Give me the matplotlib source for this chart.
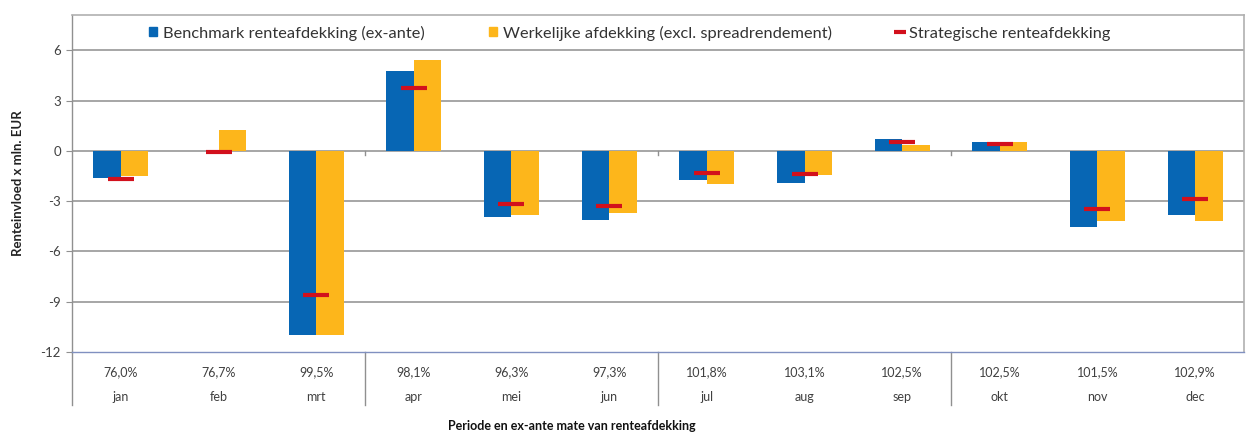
import matplotlib
matplotlib.use("Agg")
import matplotlib.pyplot as plt
import matplotlib.transforms as mtransforms
from matplotlib.lines import Line2D
from matplotlib.patches import Patch
import numpy as np

plt.rcParams['font.family'] = ['Lato', 'DejaVu Sans']

months = ["jan", "feb", "mrt", "apr", "mei", "jun", "jul", "aug", "sep", "okt", "nov", "dec"]
hedge_pct = ["76,0%", "76,7%", "99,5%", "98,1%", "96,3%", "97,3%", "101,8%", "103,1%",
             "102,5%", "102,5%", "101,5%", "102,9%"]
benchmark = [-1.6, 0.0, -11.0, 4.75, -3.95, -4.15, -1.75, -1.9, 0.7, 0.5, -4.55, -3.8]
werkelijk = [-1.5, 1.25, -11.0, 5.4, -3.8, -3.7, -1.95, -1.45, 0.35, 0.55, -4.2, -4.2]
strategisch = [-1.7, -0.1, -8.6, 3.75, -3.2, -3.3, -1.3, -1.4, 0.55, 0.4, -3.45, -2.85]
yticks = [-12, -9, -6, -3, 0, 3, 6]
quarter_bounds = [2.5, 5.5, 8.5]

BLUE = "#0766b4"
ORANGE = "#fdb61b"
RED = "#d2101c"
GRID = "#a6a6a6"
TXT = "#404040"

fig = plt.figure(figsize=(12.46, 4.34), dpi=100)
ax = fig.add_axes([72/1246, 1-352/434, (1244-72)/1246, (352-15)/434])

x = np.arange(len(months))
w = 0.28
ax.bar(x - w/2, benchmark, w, color=BLUE, zorder=3)
ax.bar(x + w/2, werkelijk, w, color=ORANGE, zorder=3)
ax.plot(x, strategisch, linestyle='none', marker='_', markersize=19,
        markeredgewidth=3.0, color=RED, zorder=4)

ax.set_xlim(-0.5, len(months) - 0.5)
ax.set_ylim(-12, 8.1)
ax.set_yticks(yticks)
ax.set_yticklabels([str(v) for v in yticks], fontsize=9.5, color=TXT)
for v in yticks[1:]:
    ax.axhline(v, color=GRID, linewidth=1.4, zorder=1)

for s in ["top", "right"]:
    ax.spines[s].set_color("#b0b0b0")
    ax.spines[s].set_linewidth(1.2)
ax.spines["left"].set_color("#909090")
ax.spines["left"].set_linewidth(1.0)
ax.spines["bottom"].set_color("#8090c0")
ax.spines["bottom"].set_linewidth(1.0)

ax.tick_params(axis='y', length=4, color="#909090", pad=4)
ax.set_xticks(x)
ax.set_xticklabels(hedge_pct, fontsize=9, color=TXT)
ax.tick_params(axis='x', length=0, pad=10)

trans = mtransforms.blended_transform_factory(ax.transData, ax.transAxes)
for xi, m in zip(x, months):
    ax.text(xi, -0.135, m, transform=trans, ha='center', va='center', fontsize=9, color=TXT)

# table separators
ybot = -(405-352)/337
ax.plot([-0.5, -0.5], [0, ybot], transform=trans, color="#909090", lw=1.0, clip_on=False)
for b in quarter_bounds:
    ax.plot([b, b], [0, ybot], transform=trans, color="#909090", lw=1.0, clip_on=False)
    ax.plot([b, b], [0, -0.25], color="#909090", lw=1.0, zorder=2)

ax.set_ylabel("Renteinvloed x mln. EUR", fontsize=9.5, fontweight='bold', color="#222222", labelpad=12)
fig.text(572/1246, 1-426/434, "Periode en ex-ante mate van renteafdekking", ha='center', va='center',
         fontsize=9, fontweight='bold', color="#111111")

handles = [Patch(color=BLUE), Patch(color=ORANGE),
           Line2D([], [], color=RED, marker='_', linestyle='none', markersize=9, markeredgewidth=3)]
labels = ["Benchmark renteafdekking (ex-ante)", "Werkelijke afdekking (excl. spreadrendement)",
          "Strategische renteafdekking"]
leg = ax.legend(handles, labels, loc='center', bbox_to_anchor=((630-72)/1172, 1 - 18/337), ncol=3,
                frameon=False, fontsize=11.8, handlelength=0.5, handleheight=0.5,
                handletextpad=0.35, columnspacing=3.9, labelcolor="#333333")

fig.savefig("out.png", dpi=100)
